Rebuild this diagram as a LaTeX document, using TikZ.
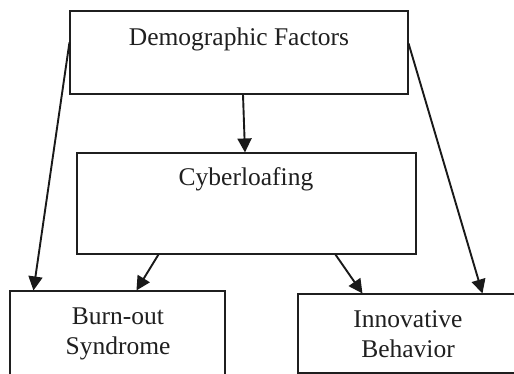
\documentclass[tikz,border=0pt]{standalone}
\usepackage{fontspec}
\setmainfont{Liberation Serif}
\usetikzlibrary{arrows.meta}
\begin{document}
\begin{tikzpicture}[x=1pt,y=-1pt,
  box/.style={draw=black!88, line width=1.1pt, rectangle, inner sep=0pt, anchor=center},
  lbl/.style={inner sep=0pt, anchor=base, align=center, text=black!88,
    font=\fontsize{25.5}{29.5}\selectfont},
  arr/.style={draw=black!90, line width=1.9pt,
    -{Triangle[length=14pt,width=14pt]}}]
\useasboundingbox (0,0) rectangle (514,374);
\clip (0,0) rectangle (514,374);
% boxes
\node[box, minimum width=338pt, minimum height=83pt]  (demo)  at (239,52.5) {};
\node[box, minimum width=339pt, minimum height=101pt] (cyber) at (246.5,203.5) {};
\node[box, minimum width=215pt, minimum height=130pt] (burn)  at (117.5,356) {};
\node[box, minimum width=220pt, minimum height=79pt]  (innov) at (408,333.5) {};
% labels (anchor on the baseline of the last line)
\node[lbl] (tdemo)  at (239,46)  {Demographic Factors};
\node[lbl] (tcyber) at (246,186) {Cyberloafing};
\node[lbl] (tburn)  at (118,354) {Burn-out\\Syndrome};
\node[lbl] (tinnov) at (408,357) {Innovative\\Behavior};
% connectors
\draw[arr] ([xshift=4pt]demo.south) -- ([xshift=-1.5pt]cyber.north);
\draw[arr] ([yshift=-32pt]demo.north west) -- ([xshift=24pt]burn.north west);
\draw[arr] ([yshift=-33pt]demo.north east) -- ([xshift=185pt]innov.north west);
\draw[arr] ([xshift=82pt]cyber.south west) -- ([xshift=127pt]burn.north west);
\draw[arr] ([xshift=259pt]cyber.south west) -- ([xshift=65pt]innov.north west);
\end{tikzpicture}
\end{document}
